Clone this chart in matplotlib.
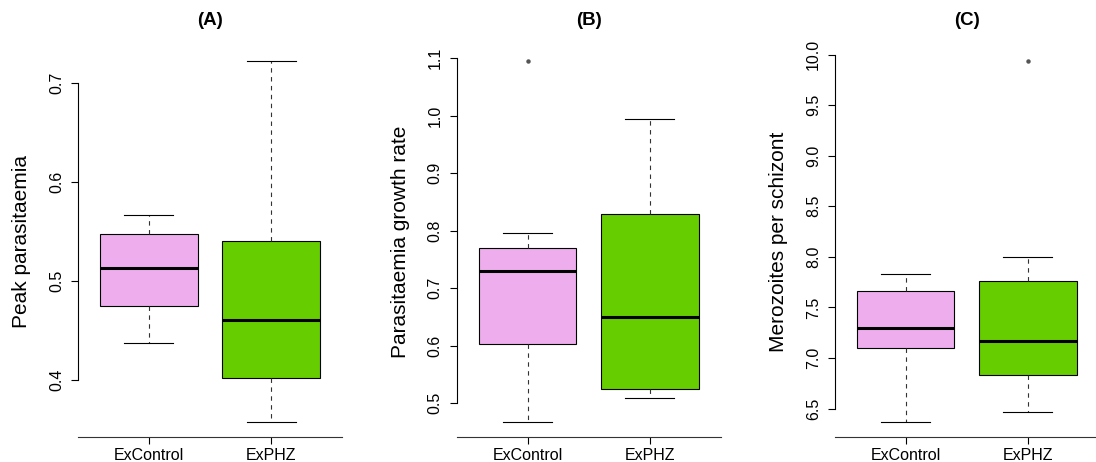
import numpy as np
import matplotlib
matplotlib.use("Agg")
import matplotlib.pyplot as plt

plt.rcParams['font.family'] = ['Liberation Sans', 'DejaVu Sans']

groups = ["ExControl", "ExPHZ"]
box_colors = ["#EEAEEE", "#66CD00"]
titles = ["(A)", "(B)", "(C)"]
ylabels = ["Peak parasitaemia", "Parasitaemia growth rate", "Merozoites per schizont"]

# five-number summaries: whislo, q1, med, q3, whishi
peak_ctrl = [0.437, 0.475, 0.5135, 0.547, 0.567]
peak_phz = [0.357, 0.402, 0.460, 0.5405, 0.722]
growth_ctrl = [0.467, 0.603, 0.729, 0.769, 0.796]
growth_phz = [0.509, 0.525, 0.650, 0.829, 0.994]
mero_ctrl = [6.365, 7.10, 7.30, 7.66, 7.832]
mero_phz = [6.467, 6.833, 7.166, 7.766, 8.0]

# outliers
growth_ctrl_out = [1.094]
mero_phz_out = [9.932]

yticks = [
    [0.4, 0.5, 0.6, 0.7],
    [0.5, 0.6, 0.7, 0.8, 0.9, 1.0, 1.1],
    [6.5, 7.0, 7.5, 8.0, 8.5, 9.0, 9.5, 10.0],
]

panels = [
    ([peak_ctrl, peak_phz], [[], []]),
    ([growth_ctrl, growth_phz], [growth_ctrl_out, []]),
    ([mero_ctrl, mero_phz], [[], mero_phz_out]),
]

W, H = 1096, 462
fig = plt.figure(figsize=(W / 100, H / 100), dpi=100)
lefts = [78, 456.7, 834.7]
top_px, bot_px = 47, 436.7
ax_w = 264

for i, (summ, outs) in enumerate(panels):
    ax = fig.add_axes([lefts[i] / W, (H - bot_px) / H, ax_w / W, (bot_px - top_px) / H])
    stats = []
    for s, o in zip(summ, outs):
        stats.append(dict(whislo=s[0], q1=s[1], med=s[2], q3=s[3], whishi=s[4], fliers=o))
    bp = ax.bxp(stats, positions=[1, 2], widths=0.8, patch_artist=True,
                boxprops=dict(linewidth=0.8, edgecolor="black"),
                whiskerprops=dict(linewidth=0.8, linestyle=(0, (4, 4)), color="#333333"),
                capprops=dict(linewidth=0.8, color="black"),
                medianprops=dict(linewidth=2.2, color="black", solid_capstyle="butt"),
                flierprops=dict(marker="o", markersize=2.2, markerfacecolor="#555555",
                                markeredgecolor="#555555", linestyle="none"))
    for patch, c in zip(bp["boxes"], box_colors):
        patch.set_facecolor(c)

    # R-style range: data extended by 4%
    allv = [v for s in summ for v in s] + [v for o in outs for v in o]
    lo, hi = min(allv), max(allv)
    r = hi - lo
    ax.set_ylim(lo - 0.04 * r, hi + 0.04 * r)
    ax.set_xlim(0.42, 2.58)

    for sp in ["top", "right"]:
        ax.spines[sp].set_visible(False)
    ax.spines["left"].set_bounds(yticks[i][0], yticks[i][-1])
    ax.spines["left"].set_linewidth(0.8)
    ax.spines["bottom"].set_linewidth(0.8)
    ax.spines["bottom"].set_color("#333333")

    ax.set_yticks(yticks[i])
    ax.set_yticklabels(["%.1f" % t for t in yticks[i]], rotation=90, va="center")
    ax.set_xticks([1, 2])
    ax.set_xticklabels(groups)
    ax.tick_params(axis="both", labelsize=11.5, length=5, width=0.8, pad=3)
    ax.tick_params(axis="y", pad=5)

    ax.set_ylabel(ylabels[i], fontsize=15, labelpad=13)
    ax.set_title(titles[i], fontsize=13.5, fontweight="bold", pad=15.5)

fig.savefig("out.png", dpi=100)
